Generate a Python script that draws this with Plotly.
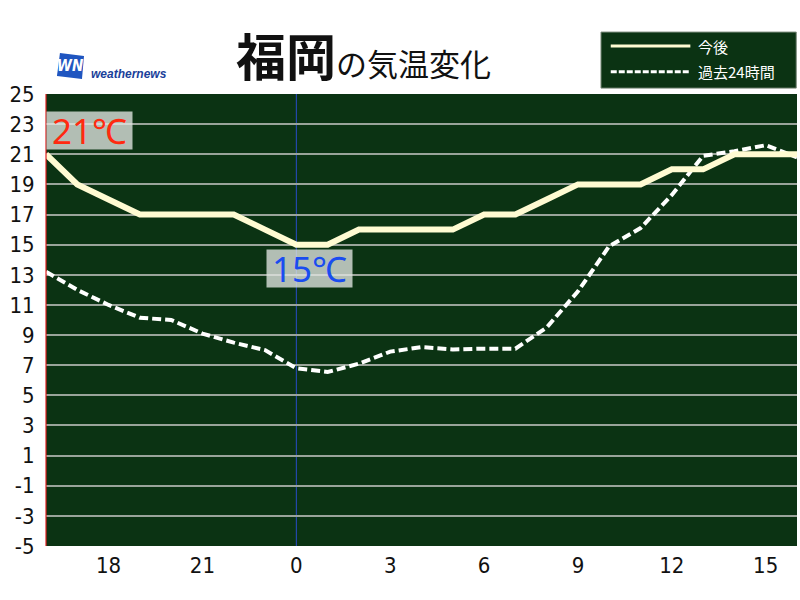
import plotly.graph_objects as go

hours = list(range(-8, 17))  # relative to 0 o'clock
future_temp = [21, 19, 18, 17, 17, 17, 17, 16, 15, 15, 16, 16, 16, 16, 17, 17, 18, 19, 19, 19, 20, 20, 21, 21, 21]
past_temp = [13.2, 12.0, 11.0, 10.15, 10.0, 9.1, 8.5, 8.0, 6.8, 6.55, 7.1, 7.9, 8.2, 8.05, 8.1, 8.1, 9.5, 11.9, 14.9, 16.1, 18.3, 20.9, 21.2, 21.6, 20.8]
x_tickvals = [-6, -3, 0, 3, 6, 9, 12, 15]
x_ticktext = ["18", "21", "0", "3", "6", "9", "12", "15"]
y_tickvals = list(range(-5, 26, 2))
y_ticktext = [str(v) for v in y_tickvals]  # plain hyphen minus
label_max = "21℃"
label_min = "15℃"

tick_font = dict(family="DejaVu Sans Condensed, DejaVu Sans", size=22, color="#111111")

fig = go.Figure()
fig.add_trace(go.Scatter(x=hours, y=past_temp, mode="lines",
                         line=dict(color="#ffffff", width=4, dash="9px,4px"),
                         showlegend=False, hoverinfo="skip"))
fig.add_trace(go.Scatter(x=hours, y=future_temp, mode="lines",
                         line=dict(color="#fffbd2", width=6),
                         showlegend=False, hoverinfo="skip"))

shapes = [
    dict(type="line", xref="x", yref="paper", x0=0, x1=0, y0=0, y1=1,
         line=dict(color="#2a4cc8", width=1), layer="below"),
    dict(type="line", xref="paper", yref="paper", x0=0, x1=0, y0=0, y1=1,
         line=dict(color="#e02020", width=1.2)),
    # legend box
    dict(type="rect", xref="paper", yref="paper", x0=0.739, x1=0.999, y0=1.013, y1=1.137,
         fillcolor="#0b3313", line=dict(color="#7a8a7a", width=1)),
    dict(type="line", xref="paper", yref="paper", x0=0.752, x1=0.858, y0=1.106, y1=1.106,
         line=dict(color="#fffbd2", width=3)),
    dict(type="line", xref="paper", yref="paper", x0=0.752, x1=0.858, y0=1.049, y1=1.049,
         line=dict(color="#ffffff", width=3, dash="6px,2px")),
    # logo
    dict(type="path", xref="paper", yref="paper",
         path="M 0.0186 1.0907 L 0.0506 1.084 L 0.0479 1.033 L 0.0146 1.040 Z",
         fillcolor="#1f55c0", line=dict(width=0)),
]

annotations = [
    dict(x=-8, y=22.6, xref="x", yref="y", xanchor="left", yanchor="middle",
         text=label_max, showarrow=False, width=85, height=37, align="center", valign="middle",
         font=dict(family="Noto Sans, DejaVu Sans", size=35, color="#ff2a10"),
         bgcolor="rgba(225,230,225,0.78)", borderpad=0),
    dict(x=0.43, y=13.42, xref="x", yref="y", xanchor="center", yanchor="middle",
         text=label_min, showarrow=False, width=85, height=37, align="center", valign="middle",
         font=dict(family="Noto Sans, DejaVu Sans", size=35, color="#1a4cf0"),
         bgcolor="rgba(225,230,225,0.78)", borderpad=0),
    # title
    dict(xref="paper", yref="paper", x=0.25, y=1.088, xanchor="left", yanchor="middle",
         text="<b>福岡</b><span style='font-size:31px'>の気温変化</span>",
         showarrow=False,
         font=dict(family="Noto Sans CJK JP", size=50, color="#111111")),
    # legend texts
    dict(xref="paper", yref="paper", x=0.866, y=1.106, xanchor="left", yanchor="middle",
         text="今後", showarrow=False,
         font=dict(family="Noto Sans CJK JP", size=15, color="#ffffff")),
    dict(xref="paper", yref="paper", x=0.866, y=1.049, xanchor="left", yanchor="middle",
         text="過去24時間", showarrow=False,
         font=dict(family="Noto Sans CJK JP", size=15, color="#ffffff")),
    # logo text
    dict(xref="paper", yref="paper", x=0.032, y=1.062, xanchor="center", yanchor="middle",
         text="<b><i>WN</i></b>", showarrow=False,
         font=dict(family="DejaVu Sans Condensed, DejaVu Sans", size=15, color="#ffffff")),
    dict(xref="paper", yref="paper", x=0.057, y=1.044, xanchor="left", yanchor="middle",
         text="<b><i>weathernews</i></b>", showarrow=False,
         font=dict(family="Liberation Sans", size=12, color="#1a3f9a")),
]

fig.update_layout(
    width=800, height=600,
    margin=dict(l=46, r=3, t=94, b=54, autoexpand=False),
    paper_bgcolor="#ffffff",
    plot_bgcolor="#0b3313",
    shapes=shapes,
    annotations=annotations,
    xaxis=dict(range=[-8, 16], tickvals=x_tickvals, ticktext=x_ticktext,
               showgrid=False, zeroline=False, showline=False, automargin=False,
               tickfont=tick_font, ticks="outside", ticklen=0, tickcolor="rgba(0,0,0,0)"),
    yaxis=dict(range=[-5, 25], tickvals=y_tickvals, ticktext=y_ticktext, showgrid=True,
               gridcolor="#9aa49a", gridwidth=1.5, zeroline=False, showline=False,
               automargin=False,
               tickfont=tick_font, ticks="outside", ticklen=6, tickcolor="rgba(0,0,0,0)"),
)

fig.write_html("out.html", config={"displayModeBar": False},
               post_script="document.body.style.margin='0';")
